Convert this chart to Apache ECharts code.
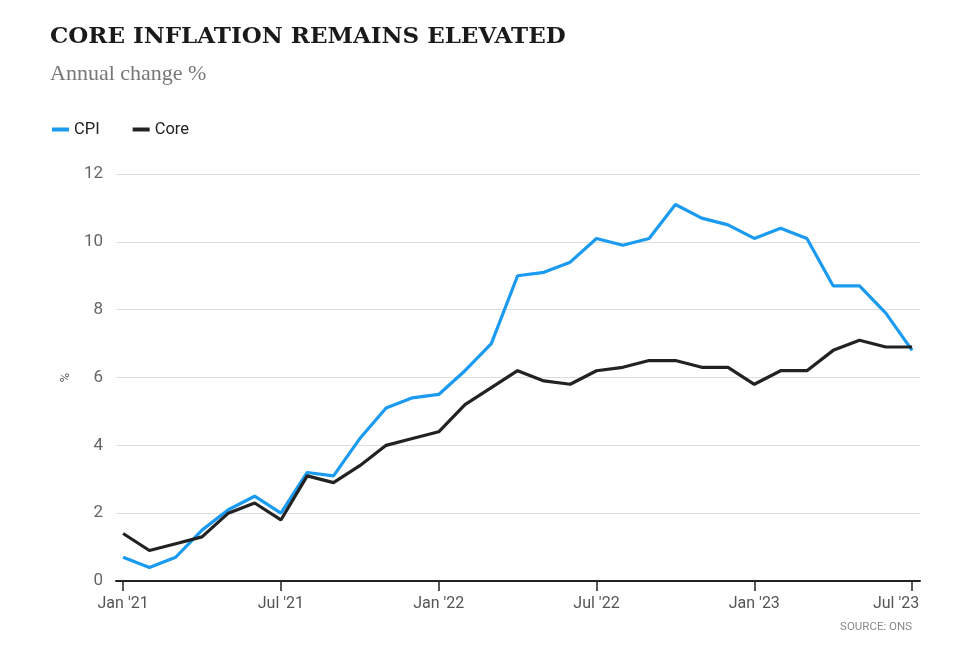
<!DOCTYPE html>
<html><head><meta charset="utf-8">
<script src="https://cdn.jsdelivr.net/npm/echarts@6/dist/echarts.min.js"></script>
<style>html,body{margin:0;padding:0;background:#fff}#c{width:968px;height:651px}</style>
</head><body><div id="c"></div>
<script>
const months = ["Jan 21","Feb 21","Mar 21","Apr 21","May 21","Jun 21","Jul 21","Aug 21","Sep 21","Oct 21","Nov 21","Dec 21",
"Jan 22","Feb 22","Mar 22","Apr 22","May 22","Jun 22","Jul 22","Aug 22","Sep 22","Oct 22","Nov 22","Dec 22",
"Jan 23","Feb 23","Mar 23","Apr 23","May 23","Jun 23","Jul 23"];
const cpi = [0.7,0.4,0.7,1.5,2.1,2.5,2.0,3.2,3.1,4.2,5.1,5.4,5.5,6.2,7.0,9.0,9.1,9.4,10.1,9.9,10.1,11.1,10.7,10.5,10.1,10.4,10.1,8.7,8.7,7.9,6.8];
const core = [1.4,0.9,1.1,1.3,2.0,2.3,1.8,3.1,2.9,3.4,4.0,4.2,4.4,5.2,5.7,6.2,5.9,5.8,6.2,6.3,6.5,6.5,6.3,6.3,5.8,6.2,6.2,6.8,7.1,6.9,6.9];
const tickIdx = [0,6,12,18,24,30];
const tickLabels = ["Jan '21","Jul '21","Jan '22","Jul '22","Jan '23","Jul '23"];
const yTicks = [0,2,4,6,8,10,12];

const sans = "'Roboto',sans-serif";
const chart = echarts.init(document.getElementById('c'), null, {renderer:'canvas'});
chart.setOption({
  animation:false,
  title:[
    {text:'CORE INFLATION REMAINS ELEVATED', left:45, top:21,
     textStyle:{fontFamily:"'DejaVu Serif','Liberation Serif',serif", fontWeight:'bold', fontSize:23, color:'#1a1a1a'}},
    {text:'Annual change %', left:45, top:58,
     textStyle:{fontFamily:"'Liberation Serif',serif", fontWeight:'normal', fontSize:22, color:'#777'}},
    {text:'SOURCE: ONS', right:51, top:616,
     textStyle:{fontFamily:sans, fontWeight:'normal', fontSize:11.5, color:'#888'}}
  ],
  legend:{left:47, top:116, itemWidth:17, itemHeight:4, itemGap:33, icon:'rect',
    textStyle:{fontFamily:sans, fontSize:16.5, color:'#222'},
    data:['CPI','Core']},
  grid:{left:116, right:48, top:174, bottom:70, containLabel:false},
  xAxis:{type:'value', min:-0.27, max:30.3,
    axisLine:{show:true, lineStyle:{color:'#222', width:2}},
    axisTick:{show:true, customValues:tickIdx, length:10, lineStyle:{color:'#222', width:1.5}},
    axisLabel:{customValues:tickIdx,
      formatter:v=>{const i=tickIdx.indexOf(Math.round(v)); if(i<0) return ''; return i===tickLabels.length-1?'{last|'+tickLabels[i]+'}':tickLabels[i];},
      rich:{last:{fontFamily:sans, fontSize:16, color:'#555', padding:[0,32,0,0]}},
      fontFamily:sans, fontSize:16, color:'#555', margin:15},
    splitLine:{show:false}},
  yAxis:{type:'value', min:0, max:12, interval:2,
    name:'%', nameLocation:'middle', nameGap:46, nameRotate:-90,
    nameTextStyle:{fontFamily:sans, fontSize:13, color:'#555'},
    axisLine:{show:false}, axisTick:{show:false},
    axisLabel:{fontFamily:sans, fontSize:17, color:'#666', margin:13},
    splitLine:{lineStyle:{color:'#ddd', width:1}}},
  series:[
    {name:'CPI', type:'line', data:cpi.map((v,i)=>[i,v]), symbol:'none',
     lineStyle:{color:'#1a9af0', width:3.2}, itemStyle:{color:'#1a9af0'}, z:2},
    {name:'Core', type:'line', data:core.map((v,i)=>[i,v]), symbol:'none',
     lineStyle:{color:'#222', width:3.2}, itemStyle:{color:'#222'}, z:3}
  ]
});
</script></body></html>
